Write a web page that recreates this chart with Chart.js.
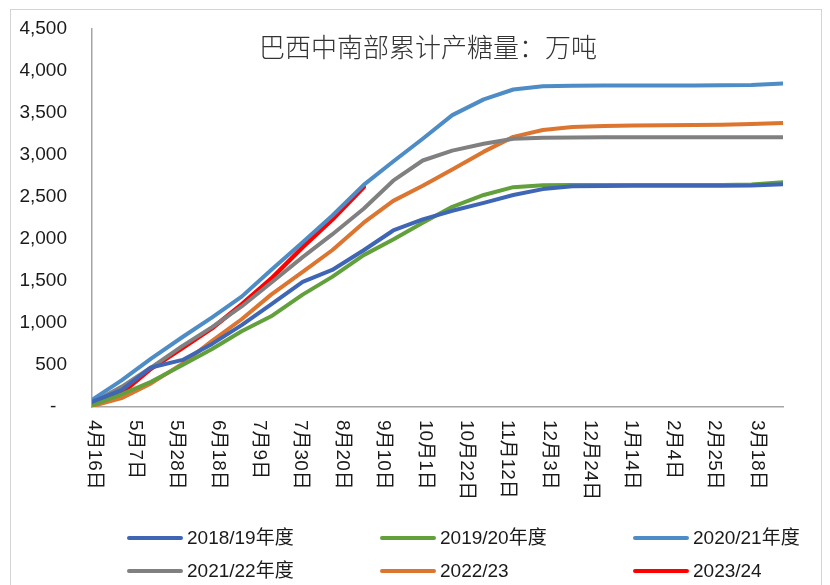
<!DOCTYPE html>
<html>
<head>
<meta charset="utf-8">
<script src="https://cdn.jsdelivr.net/npm/chart.js@4.4.0/dist/chart.umd.min.js"></script>
<style>
 body { margin: 0; background: #fff; }
 #wrap { width: 830px; height: 585px; }
</style>
</head>
<body>
<div id="wrap"><canvas id="sugarChart" width="830" height="585"></canvas></div>
<script>
// half-month reporting dates (crop year starts 4/16)
const periodDates = ['2023-04-16', '2023-05-01', '2023-05-16', '2023-06-01', '2023-06-16', '2023-07-01',
 '2023-07-16', '2023-08-01', '2023-08-16', '2023-09-01', '2023-09-16', '2023-10-01', '2023-10-16',
 '2023-11-01', '2023-11-16', '2023-12-01', '2023-12-16', '2024-01-01', '2024-01-16', '2024-02-01',
 '2024-02-16', '2024-03-01', '2024-03-16', '2024-04-01'];

const tickDates = ['2023-04-16', '2023-05-07', '2023-05-28', '2023-06-18', '2023-07-09', '2023-07-30',
 '2023-08-20', '2023-09-10', '2023-10-01', '2023-10-22', '2023-11-12', '2023-12-03', '2023-12-24',
 '2024-01-14', '2024-02-04', '2024-02-25', '2024-03-18'];
const tickLabels = ['4月16日', '5月7日', '5月28日', '6月18日', '7月9日', '7月30日', '8月20日', '9月10日',
 '10月1日', '10月22日', '11月12日', '12月3日', '12月24日', '1月14日', '2月4日', '2月25日', '3月18日'];

const seriesNames = ['2018/19年度', '2019/20年度', '2020/21年度', '2021/22年度', '2022/23', '2023/24'];
const seriesColors = ['#3F66B5', '#62A03C', '#4E8CC5', '#808080', '#DC7530', '#FF0000'];

const s1819 = [60, 200, 470, 560, 750, 973, 1219, 1488, 1629, 1863, 2098, 2230, 2332, 2426, 2520, 2590, 2625, 2628, 2630, 2630, 2630, 2630, 2632, 2648];
const s1920 = [20, 150, 300, 500, 690, 900, 1078, 1336, 1547, 1805, 1992, 2190, 2379, 2520, 2613, 2637, 2640, 2640, 2640, 2640, 2640, 2640, 2645, 2672];
const s2021 = [85, 316, 574, 832, 1066, 1312, 1629, 1957, 2273, 2640, 2918, 3188, 3469, 3656, 3774, 3812, 3818, 3820, 3820, 3820, 3822, 3824, 3826, 3844];
const s2122 = [50, 240, 469, 727, 950, 1195, 1477, 1781, 2051, 2356, 2690, 2930, 3047, 3129, 3188, 3199, 3203, 3205, 3205, 3205, 3205, 3205, 3205, 3206];
const s2223 = [10, 105, 281, 516, 785, 1043, 1336, 1605, 1863, 2191, 2450, 2630, 2824, 3035, 3211, 3293, 3328, 3340, 3345, 3350, 3352, 3355, 3363, 3375];
const s2324 = [55, 164, 457, 703, 937, 1219, 1524, 1899, 2227, 2613];

const allSeries = [s1819, s1920, s2021, s2122, s2223, s2324];

const baseDay = Date.parse('2023-04-16');
function dayOf(d) {
 return Math.round((Date.parse(d) - baseDay) / 86400000);
}

const textFont = '"Liberation Sans", "Noto Sans CJK SC", sans-serif';

let datasets = allSeries.map((vals, i) => ({
 label: seriesNames[i],
 data: vals.map((v, j) => ({ x: dayOf(periodDates[j]), y: v })),
 borderColor: seriesColors[i],
 backgroundColor: seriesColors[i],
 borderWidth: i == 5 ? 4.5 : 4,
 borderCapStyle: 'round',
 borderJoinStyle: 'round',
 pointRadius: 0,
 tension: 0,
 fill: false
}));

// frame, title, rotated date labels and legend grid
let decorations = {
 id: 'decorations',
 beforeDraw(chart) {
  let ctx = chart.ctx;
  ctx.save();
  ctx.fillStyle = '#fff';
  ctx.fillRect(0, 0, chart.width, chart.height);
  ctx.strokeStyle = '#d4d4d4';
  ctx.lineWidth = 1;
  ctx.strokeRect(10.5, 9.5, 811, 580);
  ctx.restore();
 },
 afterDraw(chart) {
  let ctx = chart.ctx;
  let xs = chart.scales.x;
  ctx.save();

  ctx.fillStyle = '#333';
  ctx.font = '300 26px "Noto Sans CJK SC", sans-serif';
  ctx.textAlign = 'center';
  ctx.textBaseline = 'middle';
  ctx.fillText('巴西中南部累计产糖量：万吨', 428, 47);

  ctx.fillStyle = '#1a1a1a';
  ctx.font = '19px ' + textFont;
  ctx.textAlign = 'left';
  tickDates.forEach((d, i) => {
   let x = xs.getPixelForValue(dayOf(d));
   ctx.save();
   ctx.translate(x + 2, chart.chartArea.bottom + 13);
   ctx.rotate(Math.PI / 2);
   ctx.fillText(tickLabels[i], 0, 0);
   ctx.restore();
  });

  let colX = [127, 380, 633];
  let rowY = [538, 571];
  chart.data.datasets.forEach((ds, i) => {
   let x = colX[i % 3];
   let y = rowY[Math.floor(i / 3)];
   ctx.strokeStyle = ds.borderColor;
   ctx.lineWidth = 4;
   ctx.lineCap = 'round';
   ctx.beginPath();
   ctx.moveTo(x + 2, y);
   ctx.lineTo(x + 54, y);
   ctx.stroke();
   ctx.fillStyle = '#1a1a1a';
   ctx.fillText(ds.label, x + 60, y + 1);
  });
  ctx.restore();
 }
};

let sugarChart = new Chart(document.getElementById('sugarChart').getContext('2d'), {
 type: 'line',
 data: { datasets: datasets },
 options: {
  responsive: false,
  animation: false,
  layout: { padding: { left: 0, top: 11, right: 47, bottom: 178 } },
  plugins: {
   legend: { display: false },
   title: { display: false },
   tooltip: { enabled: false }
  },
  scales: {
   x: {
    type: 'linear',
    min: 0,
    max: dayOf('2024-04-01'),
    grid: { display: false },
    border: { display: true, color: '#a6a6a6', width: 1.5 },
    ticks: { display: false },
    afterFit(scale) { scale.height = 0; }
   },
   y: {
    min: 0,
    max: 4500,
    grid: { display: false },
    border: { display: true, color: '#a6a6a6', width: 1.5 },
    ticks: {
     stepSize: 500,
     padding: 17,
     color: '#1a1a1a',
     font: { family: textFont, size: 19 },
     callback: v => v == 0 ? '-  ' : v.toLocaleString('en-US')
    },
    afterFit(scale) { scale.width = 92; }
   }
  }
 },
 plugins: [decorations]
});
</script>
</body>
</html>
